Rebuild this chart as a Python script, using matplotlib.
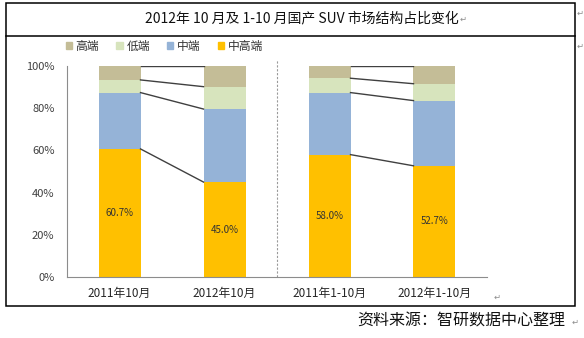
import matplotlib.pyplot as plt
from matplotlib.patches import Rectangle, Patch
from matplotlib.lines import Line2D
import numpy as np

plt.rcParams['font.family'] = ['Noto Sans CJK SC', 'DejaVu Sans']

categories = ['2011年10月', '2012年10月', '2011年1-10月', '2012年1-10月']
mid_high = [60.7, 45.0, 58.0, 52.7]   # 中高端
mid = [26.7, 34.6, 29.4, 30.9]        # 中端
low = [6.0, 10.6, 6.8, 8.0]           # 低端
high = [6.6, 9.8, 5.8, 8.4]           # 高端
pairs = [(0, 1), (2, 3)]

c_high = '#C4BD97'
c_low = '#D7E4BD'
c_mid = '#95B3D7'
c_midhigh = '#FFC000'

W, H = 584, 338
fig = plt.figure(figsize=(W / 100, H / 100), dpi=100)

# outer frame of the word table
fig.add_artist(Rectangle((6 / W, 1 - 306 / H), 569 / W, 303 / H, transform=fig.transFigure,
                         fill=False, edgecolor='black', linewidth=1.1))
fig.add_artist(Line2D([6 / W, 575 / W], [1 - 36 / H, 1 - 36 / H], transform=fig.transFigure,
                      color='black', linewidth=1.1))
fig.text(302 / W, 1 - 18 / H, '2012年 10 月及 1-10 月国产 SUV 市场结构占比变化',
         ha='center', va='center', fontsize=10, color='#111111')

ax = fig.add_axes([67 / W, 1 - 277 / H, 420 / W, 211 / H])
x = np.arange(len(categories))
bw = 0.4
b1 = np.array(mid_high)
b2 = b1 + np.array(mid)
b3 = b2 + np.array(low)
ax.bar(x, mid_high, width=bw, color=c_midhigh)
ax.bar(x, mid, width=bw, bottom=b1, color=c_mid)
ax.bar(x, low, width=bw, bottom=b2, color=c_low)
ax.bar(x, high, width=bw, bottom=b3, color=c_high)
b4 = b3 + np.array(high)

for i, j in pairs:
    for lev in (b1, b2, b3, b4):
        ax.plot([i + bw / 2, j - bw / 2], [lev[i], lev[j]], color='#404040', lw=1)

for i, v in enumerate(mid_high):
    ax.text(x[i], v / 2, f'{v:.1f}%', ha='center', va='center', fontsize=7, color='#333333')

# dashed separator between the two groups
ax.plot([1.5, 1.5], [0, 103], color='#9A9A9A', lw=0.8, linestyle=(0, (2, 1.5)), clip_on=False)

ax.set_xlim(-0.5, 3.5)
ax.set_ylim(0, 100)
ax.set_yticks(np.arange(0, 101, 20))
ax.set_yticklabels([f'{t}%' for t in range(0, 101, 20)], fontsize=8, color='#404040')
ax.set_xticks(x)
ax.set_xticklabels(categories, fontsize=8.5, color='#262626')
ax.tick_params(axis='y', length=0, pad=9)
ax.tick_params(axis='x', length=0, pad=7)
for s in ('top', 'right'):
    ax.spines[s].set_visible(False)
for s in ('left', 'bottom'):
    ax.spines[s].set_color('#8C8C8C')

handles = [Patch(color=c) for c in (c_high, c_low, c_mid, c_midhigh)]
fig.legend(handles, ['高端', '低端', '中端', '中高端'], ncol=4, loc='center left',
           bbox_to_anchor=(55 / W, 1 - 46 / H), frameon=False, fontsize=8.5,
           handlelength=0.55, handleheight=0.55, handletextpad=0.3, columnspacing=1.45,
           labelcolor='#333333')

fig.text(565 / W, 1 - 321 / H, '资料来源：智研数据中心整理', ha='right', va='center',
         fontsize=11.5, color='#111111')

# word paragraph marks
for px, py in [(463, 19), (580, 13), (580, 46), (497, 297), (575, 322)]:
    fig.text(px / W, 1 - py / H, '↵', fontsize=6, color='#8C8C8C', ha='center', va='center',
             family='DejaVu Sans')

fig.savefig('out.png', dpi=100)
plt.close(fig)
